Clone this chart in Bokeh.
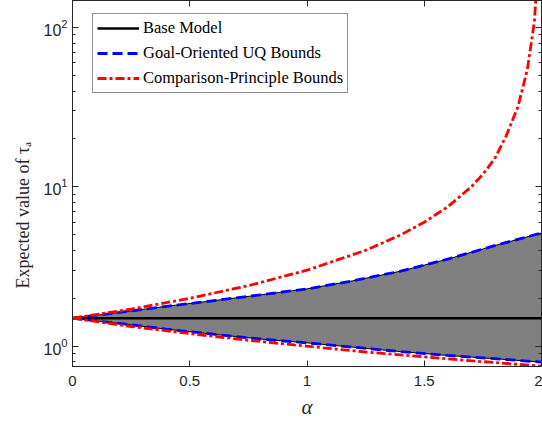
from bokeh.plotting import figure
from bokeh.models import (FixedTicker, LogTickFormatter, NumeralTickFormatter, LogAxis, LinearAxis,
                          Legend, LegendItem, Range1d, CustomJSTickFormatter, Title)
from bokeh.embed import file_html
from bokeh.resources import INLINE

# data
alpha = [0.0, 0.2, 0.4, 0.6, 0.8, 1.0, 1.2, 1.4, 1.6, 1.8, 2.0]
base_model = [1.5] * len(alpha)
goal_upper = [1.5, 1.63, 1.78, 1.93, 2.10, 2.29, 2.58, 2.96, 3.52, 4.28, 5.14]
goal_lower = [1.5, 1.39, 1.28, 1.19, 1.11, 1.05, 0.985, 0.925, 0.875, 0.835, 0.795]

cp_alpha_up = [0.0, 0.25, 0.5, 0.75, 1.0, 1.25, 1.4, 1.5, 1.6, 1.7, 1.75, 1.8, 1.85, 1.9, 1.94, 1.97, 1.99]
cp_upper = [1.5, 1.71, 2.0, 2.4, 3.0, 4.0, 5.0, 6.0, 7.5, 10.0, 12.0, 15.0, 21.0, 32.0, 55.0, 110.0, 330.0]
cp_alpha_lo = [0.0, 0.25, 0.5, 0.75, 1.0, 1.25, 1.5, 1.75, 2.0]
cp_lower = [1.5, 1.33, 1.2, 1.09, 1.0, 0.92, 0.857, 0.8, 0.75]

x_ticks = [0, 0.5, 1, 1.5, 2]
y_ticks = [1, 10, 100]
y_minor = [0.8, 0.9, 2, 3, 4, 5, 6, 7, 8, 9, 20, 30, 40, 50, 60, 70, 80, 90]

AX = "#262626"

p = figure(width=542, height=423, output_backend="svg", toolbar_location=None,
           y_axis_type="log", x_range=Range1d(0, 2), y_range=Range1d(0.746, 148),
           min_border_left=72, min_border_right=1, min_border_top=0, min_border_bottom=57)
p.background_fill_color = "white"
p.border_fill_color = "white"
p.grid.visible = False
p.outline_line_color = AX
p.outline_line_width = 1

fill = p.varea(x=alpha, y1=goal_lower, y2=goal_upper, fill_color="#808080")
p.line(alpha, goal_upper, line_color="black", line_width=1)
p.line(alpha, goal_lower, line_color="black", line_width=1)
base = p.line(alpha, base_model, line_color="black", line_width=2.5)
gu = p.line(alpha, goal_upper, line_color="#0000ff", line_width=2.8, line_dash="10 5")
gl = p.line(alpha, goal_lower, line_color="#0000ff", line_width=2.8, line_dash="10 5")
cu = p.line(cp_alpha_up, cp_upper, line_color="#ff0000", line_width=2.8, line_dash="9 3 3 3")
cl = p.line(cp_alpha_lo, cp_lower, line_color="#ff0000", line_width=2.8, line_dash="9 3 3 3")

yt = FixedTicker(ticks=y_ticks, minor_ticks=y_minor)
xt = FixedTicker(ticks=x_ticks, minor_ticks=[])

def style(ax):
    ax.axis_line_color = AX
    ax.major_tick_line_color = AX
    ax.minor_tick_line_color = AX
    ax.major_tick_in = 6
    ax.major_tick_out = 0
    ax.minor_tick_in = 3
    ax.minor_tick_out = 0
    ax.major_label_text_font = "Liberation Sans"
    ax.major_label_text_font_size = "15px"
    ax.major_label_text_color = AX

xa = p.xaxis[0]
xa.ticker = xt
xa.formatter = NumeralTickFormatter(format="0.[0]")
style(xa)
xa.major_label_standoff = 9
xa.axis_label = "α"
xa.axis_label_text_font = "Liberation Serif"
xa.axis_label_text_font_style = "italic"
xa.axis_label_text_font_size = "21px"
xa.axis_label_text_color = AX
xa.axis_label_standoff = 6

ya = p.yaxis[0]
ya.ticker = yt
ya.formatter = LogTickFormatter()
style(ya)
ya.major_label_text_font_size = "16px"
ya.major_label_standoff = 5

ylab = Title(text="Expected value of τₐ", align="left", offset=78,
             text_font="Liberation Serif", text_font_size="18px",
             text_font_style="normal", text_color=AX, standoff=15)
p.add_layout(ylab, "left")

blank = CustomJSTickFormatter(code="return ''")
ra = LogAxis(ticker=yt, formatter=blank)
style(ra)
ra.major_label_standoff = 0
p.add_layout(ra, "right")
ta = LinearAxis(ticker=xt, formatter=blank)
style(ta)
ta.major_label_standoff = 0
p.add_layout(ta, "above")

legend = Legend(items=[
    LegendItem(label="Base Model", renderers=[base]),
    LegendItem(label="Goal-Oriented UQ Bounds", renderers=[gu]),
    LegendItem(label="Comparison-Principle Bounds", renderers=[cu]),
], location=(20, 273))
legend.label_text_font = "Liberation Serif"
legend.label_text_font_size = "16.5px"
legend.label_text_color = "black"
legend.glyph_width = 42
legend.glyph_height = 20
legend.label_height = 20
legend.spacing = 5
legend.padding = 4
legend.label_standoff = 4
legend.border_line_color = AX
legend.border_line_width = 1
legend.background_fill_alpha = 1
legend.margin = 0
p.add_layout(legend, "center")

open("out.html", "w").write(file_html(p, INLINE))
